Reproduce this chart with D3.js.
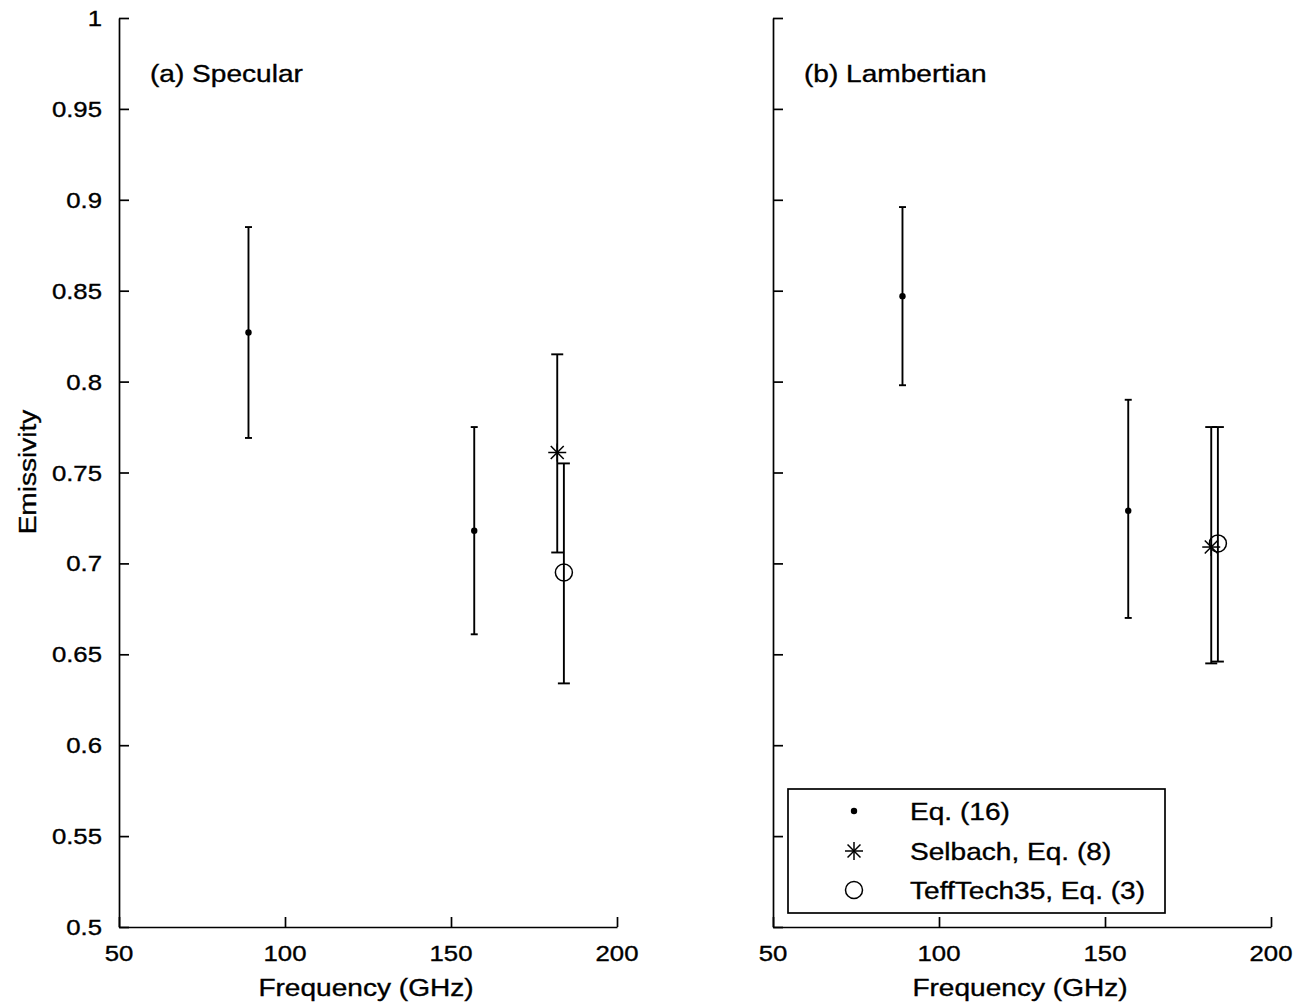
<!DOCTYPE html>
<html><head><meta charset="utf-8">
<script src="https://cdn.jsdelivr.net/npm/d3@7"></script>
<style>body{margin:0;background:#fff}</style>
</head><body>
<script>
// ---- data ----
const xTicks = [50, 100, 150, 200];
const yTicks = [0.5, 0.55, 0.6, 0.65, 0.7, 0.75, 0.8, 0.85, 0.9, 0.95, 1];
const panelTitles = ["(a) Specular", "(b) Lambertian"];
const legendLabels = ["Eq. (16)", "Selbach, Eq. (8)", "TeffTech35, Eq. (3)"];

const eq16Freq = [89, 157];
const specEq16 = [0.827, 0.718];
const specEq16Lo = [0.769, 0.661];
const specEq16Hi = [0.885, 0.775];
const lambEq16 = [0.847, 0.729];
const lambEq16Lo = [0.798, 0.670];
const lambEq16Hi = [0.896, 0.790];

const selbachFreq = [182];
const specSelbach = [0.761];
const specSelbachLo = [0.706];
const specSelbachHi = [0.815];
const lambSelbach = [0.709];
const lambSelbachLo = [0.645];
const lambSelbachHi = [0.775];

const teffFreq = [184];
const specTeff = [0.695];
const specTeffLo = [0.634];
const specTeffHi = [0.755];
const lambTeff = [0.711];
const lambTeffLo = [0.646];
const lambTeffHi = [0.775];

// ---- layout ----
const W = 1303, H = 1005;
const FONT = "'Liberation Sans', Arial, Helvetica, sans-serif";
const SX = 1.17;
const svg = d3.select("body").append("svg").attr("width", W).attr("height", H);

function txt(g, x, y, s, size, anchor, rot) {
  const gg = g.append("g").attr("transform", `translate(${x},${y})` + (rot ? ` rotate(${rot})` : "") + ` scale(${SX},1)`);
  gg.append("text").attr("font-family", FONT).attr("font-size", size).attr("fill", "#000")
    .attr("stroke", "#000").attr("stroke-width", 0.35)
    .attr("text-anchor", anchor || "start").text(s);
  return gg;
}

const panels = [
  {x0: 119, title: panelTitles[0], labels: true,
   eq: [specEq16, specEq16Lo, specEq16Hi], sel: [specSelbach, specSelbachLo, specSelbachHi], teff: [specTeff, specTeffLo, specTeffHi]},
  {x0: 773, title: panelTitles[1], labels: false,
   eq: [lambEq16, lambEq16Lo, lambEq16Hi], sel: [lambSelbach, lambSelbachLo, lambSelbachHi], teff: [lambTeff, lambTeffLo, lambTeffHi]}
];

const y = d3.scaleLinear().domain([0.5, 1]).range([927, 18]);

function star(g, cx, cy, r) {
  const d = r * 0.72;
  const segs = [[-r,0,r,0],[0,-r,0,r],[-d,-d,d,d],[-d,d,d,-d]];
  segs.forEach(s => g.append("line").attr("x1", cx+s[0]).attr("y1", cy+s[1]).attr("x2", cx+s[2]).attr("y2", cy+s[3])
    .attr("stroke", "#000").attr("stroke-width", 1.5));
}

panels.forEach(p => {
  const x = d3.scaleLinear().domain([50, 200]).range([p.x0, p.x0 + 498]);
  const g = svg.append("g");

  const xa = g.append("g").attr("transform", "translate(0,927)")
    .call(d3.axisBottom(x).tickValues(xTicks).tickSizeInner(-10).tickSizeOuter(0).tickFormat(() => ""));
  const ya = g.append("g").attr("transform", `translate(${p.x0},0)`)
    .call(d3.axisLeft(y).tickValues(yTicks).tickSizeInner(-10).tickSizeOuter(0).tickFormat(() => ""));
  [xa, ya].forEach(a => { a.selectAll("path,line").attr("stroke", "#000").attr("stroke-width", 1.7); });

  xTicks.forEach(t => txt(g, x(t), 961, String(t), 22, "middle"));
  if (p.labels) yTicks.forEach(t => txt(g, p.x0 - 17, y(t) + 8, String(t), 22, "end"));

  txt(g, p.x0 + 247, 996, "Frequency (GHz)", 24, "middle");
  txt(g, p.x0 + 31, 82, p.title, 24, "start");

  function errs(freqs, vals, lo, hi, cap) {
    freqs.forEach((f, i) => {
      const cx = x(f);
      g.append("line").attr("x1", cx).attr("x2", cx).attr("y1", y(lo[i])).attr("y2", y(hi[i]))
        .attr("stroke", "#000").attr("stroke-width", 1.9);
      [lo[i], hi[i]].forEach(v => g.append("line").attr("x1", cx - cap).attr("x2", cx + cap)
        .attr("y1", y(v)).attr("y2", y(v)).attr("stroke", "#000").attr("stroke-width", 1.9));
    });
  }
  errs(eq16Freq, p.eq[0], p.eq[1], p.eq[2], 3.5);
  errs(selbachFreq, p.sel[0], p.sel[1], p.sel[2], 6);
  errs(teffFreq, p.teff[0], p.teff[1], p.teff[2], 6);

  eq16Freq.forEach((f, i) => g.append("circle").attr("cx", x(f)).attr("cy", y(p.eq[0][i])).attr("r", 3.2).attr("fill", "#000"));
  selbachFreq.forEach((f, i) => star(g, x(f), y(p.sel[0][i]), 9));
  teffFreq.forEach((f, i) => g.append("circle").attr("cx", x(f)).attr("cy", y(p.teff[0][i])).attr("r", 8.5)
    .attr("fill", "none").attr("stroke", "#000").attr("stroke-width", 1.5));
});

txt(svg, 36, 472, "Emissivity", 24, "middle", -90);

// legend
const lg = svg.append("g");
lg.append("rect").attr("x", 788).attr("y", 789).attr("width", 377).attr("height", 124)
  .attr("fill", "#fff").attr("stroke", "#000").attr("stroke-width", 1.7);
const rowY = [811, 851, 890];
const mx = 854;
lg.append("circle").attr("cx", mx).attr("cy", rowY[0]).attr("r", 3.2).attr("fill", "#000");
star(lg, mx, rowY[1], 9);
lg.append("circle").attr("cx", mx).attr("cy", rowY[2]).attr("r", 8.5).attr("fill", "none").attr("stroke", "#000").attr("stroke-width", 1.5);
legendLabels.forEach((s, i) => txt(lg, 910, rowY[i] + 9, s, 24, "start"));
</script>
</body></html>
